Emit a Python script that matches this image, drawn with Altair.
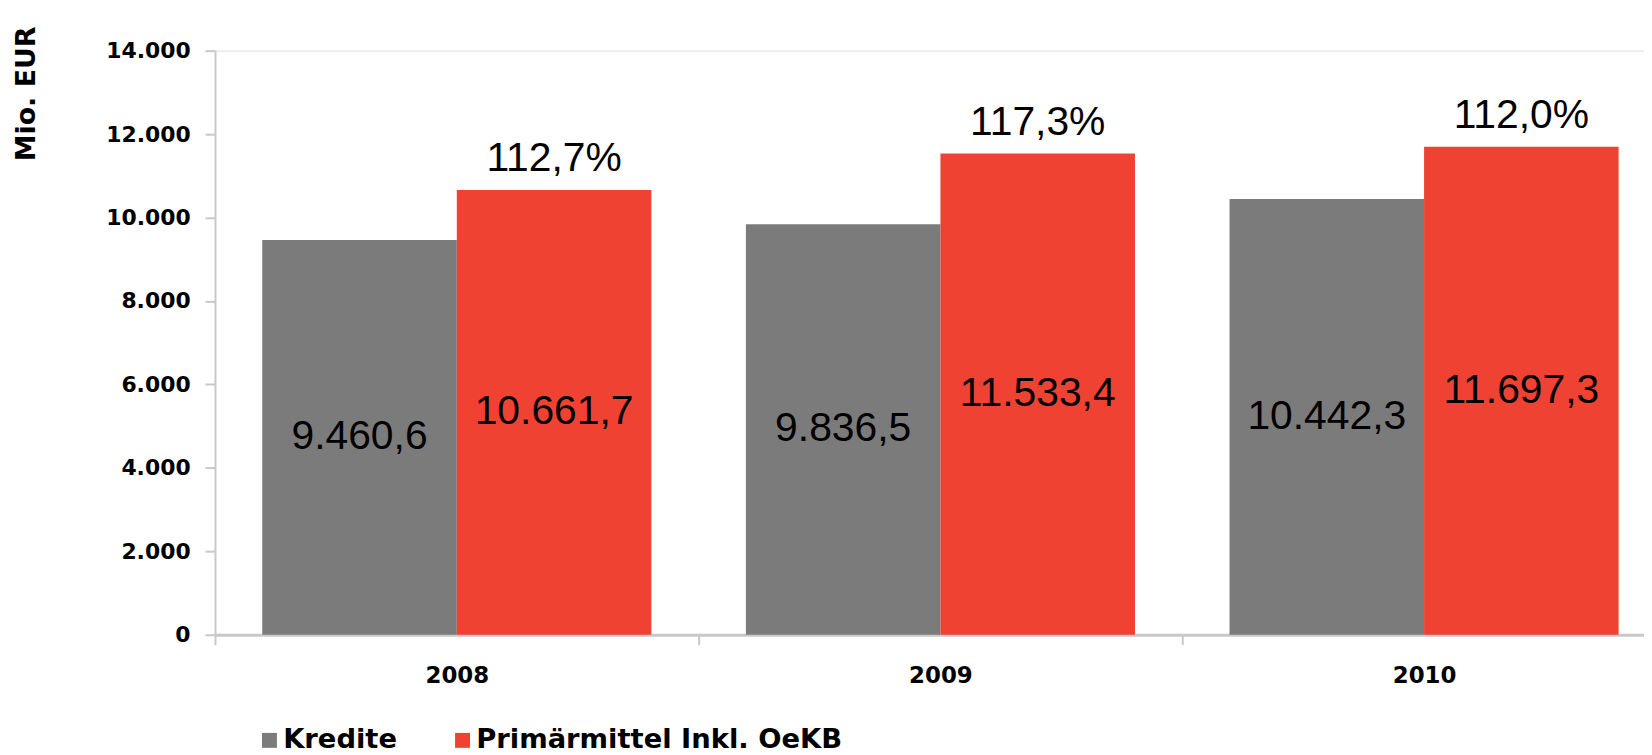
import altair as alt
import pandas as pd

years = ["2008", "2009", "2010"]
series = ["Kredite", "Primärmittel Inkl. OeKB"]
kredite = [9460.6, 9836.5, 10442.3]
primaer = [10661.7, 11533.4, 11697.3]
ratio = [112.7, 117.3, 112.0]
y_ticks = [0, 2000, 4000, 6000, 8000, 10000, 12000, 14000]

GRAY = "#7b7b7b"
RED = "#ef4232"
AXIS_GRAY = "#c8c8c8"

rows = []
for i, yr in enumerate(years):
    rows.append({"year": yr, "series": series[0], "value": kredite[i]})
    rows.append({"year": yr, "series": series[1], "value": primaer[i]})
df = pd.DataFrame(rows)

pct_df = pd.DataFrame({"year": years, "series": [series[1]] * 3,
                       "value": primaer, "pct": ratio})

x_enc = alt.X(
    "year:N",
    sort=years,
    scale=alt.Scale(range=[0, 1458], paddingInner=0, paddingOuter=0),
    axis=alt.Axis(
        title=None, labelAngle=0, tickBand="extent", grid=False,
        labelFont="DejaVu Sans", labelFontWeight="bold", labelFontSize=23,
        labelColor="black", labelPadding=20, tickSize=10,
        tickColor=AXIS_GRAY, tickWidth=2, domainColor=AXIS_GRAY, domainWidth=3,
    ),
)
xoff_enc = alt.XOffset("series:N", sort=series,
                       scale=alt.Scale(domain=series, paddingInner=0, paddingOuter=0.243))

y_enc = alt.Y(
    "value:Q",
    scale=alt.Scale(domain=[0, 14000], nice=False),
    axis=alt.Axis(
        values=y_ticks, grid=False,
        labelExpr="replace(format(datum.value, ','), ',', '.')",
        labelFont="DejaVu Sans", labelFontWeight="bold", labelFontSize=22,
        labelColor="black", labelPadding=15, tickSize=10,
        tickColor=AXIS_GRAY, tickWidth=2, domainColor=AXIS_GRAY, domainWidth=2,
        title="Mio. EUR", titleFont="DejaVu Sans", titleFontWeight="bold",
        titleFontSize=27, titleColor="black", titleAngle=270,
        titleX=-189, titleY=43, titleAlign="center", titleBaseline="middle",
    ),
)

bars = alt.Chart(df).mark_bar().encode(
    x=x_enc,
    xOffset=xoff_enc,
    y=y_enc,
    color=alt.Color(
        "series:N",
        scale=alt.Scale(domain=series, range=[GRAY, RED]),
        legend=alt.Legend(
            orient="none", legendX=41, legendY=679, direction="horizontal",
            title=None, symbolType="square", symbolSize=225,
            symbolStrokeWidth=0, symbolOpacity=1,
            labelFont="DejaVu Sans", labelFontWeight="bold", labelFontSize=27.5,
            labelColor="black", labelOffset=0, columnPadding=52, labelLimit=0,
        ),
    ),
)

mid_text = alt.Chart(df).transform_calculate(
    mid="datum.value / 2",
    label="replace(replace(replace(format(datum.value, ',.1f'), ',', '_'), '.', ','), '_', '.')",
).mark_text(font="Liberation Sans", fontSize=41, baseline="middle", color="black").encode(
    x=alt.X("year:N", sort=years),
    xOffset=alt.XOffset("series:N", sort=series),
    y=alt.Y("mid:Q"),
    text="label:N",
)

pct_text = alt.Chart(pct_df).transform_calculate(
    plabel="replace(format(datum.pct, '.1f'), '.', ',') + '%'"
).mark_text(font="Liberation Sans", fontSize=41, baseline="alphabetic", dy=-19,
            color="black").encode(
    x=alt.X("year:N", sort=years),
    xOffset=alt.XOffset("series:N", sort=series),
    y=alt.Y("value:Q"),
    text="plabel:N",
)

chart = alt.layer(bars, mid_text, pct_text).properties(
    width=1436,
    height=587,
    autosize=alt.AutoSizeParams(type="none"),
    padding={"left": 208, "top": 41, "right": 0, "bottom": 119},
).configure_view(stroke=None).configure(background="white")

chart.save("out.html", embed_options={"renderer": "svg", "actions": False})
